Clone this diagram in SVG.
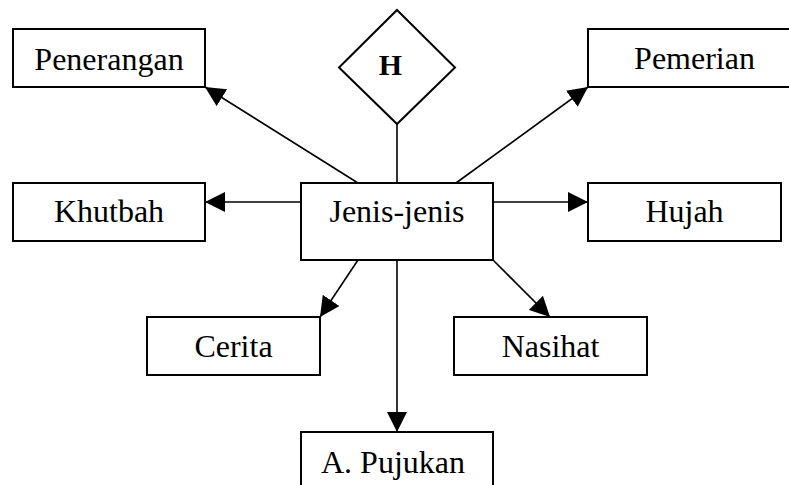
<svg xmlns="http://www.w3.org/2000/svg" width="789" height="485" viewBox="0 0 789 485">
<style>
.box{fill:#fff;stroke:#000;stroke-width:2}
.lbl{font-family:"Liberation Serif","Times New Roman",serif;font-size:32px;fill:#000;text-anchor:middle}
.h{font-weight:bold;font-size:30px}
.ln{stroke:#000;stroke-width:1.6;fill:none}
</style>
<defs>
<marker id="arr" viewBox="0 0 20 20" refX="20" refY="10" markerWidth="20" markerHeight="20" markerUnits="userSpaceOnUse" orient="auto">
<path d="M0,0 L20,10 L0,20 Z" fill="#000"/>
</marker>
</defs>
<rect width="789" height="485" fill="#fff"/>
<g id="connectors">
<line class="ln" x1="397" y1="124" x2="397" y2="183"/>
<line class="ln" x1="358" y1="183" x2="205" y2="87" marker-end="url(#arr)"/>
<line class="ln" x1="456" y1="183" x2="588" y2="87" marker-end="url(#arr)"/>
<line class="ln" x1="301" y1="202" x2="205" y2="202" marker-end="url(#arr)"/>
<line class="ln" x1="493" y1="202" x2="588" y2="202" marker-end="url(#arr)"/>
<line class="ln" x1="358" y1="260" x2="320" y2="317" marker-end="url(#arr)"/>
<line class="ln" x1="493" y1="260" x2="550" y2="317" marker-end="url(#arr)"/>
<line class="ln" x1="397" y1="260" x2="397" y2="432" marker-end="url(#arr)"/>
</g>
<g id="node-h">
<polygon class="box" points="397,10 455,67.5 397,124 339,67.5"/>
<text class="lbl h" x="390.5" y="75">H</text>
</g>
<g id="node-penerangan">
<rect class="box" x="13" y="29" width="192" height="58"/>
<text class="lbl" x="109" y="70">Penerangan</text>
</g>
<g id="node-pemerian">
<rect class="box" x="588" y="29" width="213" height="58"/>
<text class="lbl" x="694.5" y="69">Pemerian</text>
</g>
<g id="node-khutbah">
<rect class="box" x="13" y="183" width="192" height="58"/>
<text class="lbl" x="109" y="222">Khutbah</text>
</g>
<g id="node-jenis">
<rect class="box" x="301" y="183" width="192" height="77"/>
<text class="lbl" x="397" y="222">Jenis-jenis</text>
</g>
<g id="node-hujah">
<rect class="box" x="588" y="183" width="193" height="58"/>
<text class="lbl" x="684.5" y="222">Hujah</text>
</g>
<g id="node-cerita">
<rect class="box" x="147" y="317" width="173" height="58"/>
<text class="lbl" x="233.5" y="357">Cerita</text>
</g>
<g id="node-nasihat">
<rect class="box" x="454" y="317" width="193" height="58"/>
<text class="lbl" x="550.5" y="357">Nasihat</text>
</g>
<g id="node-pujukan">
<rect class="box" x="301" y="432" width="192" height="70"/>
<text class="lbl" x="393" y="473">A. Pujukan</text>
</g>
</svg>
